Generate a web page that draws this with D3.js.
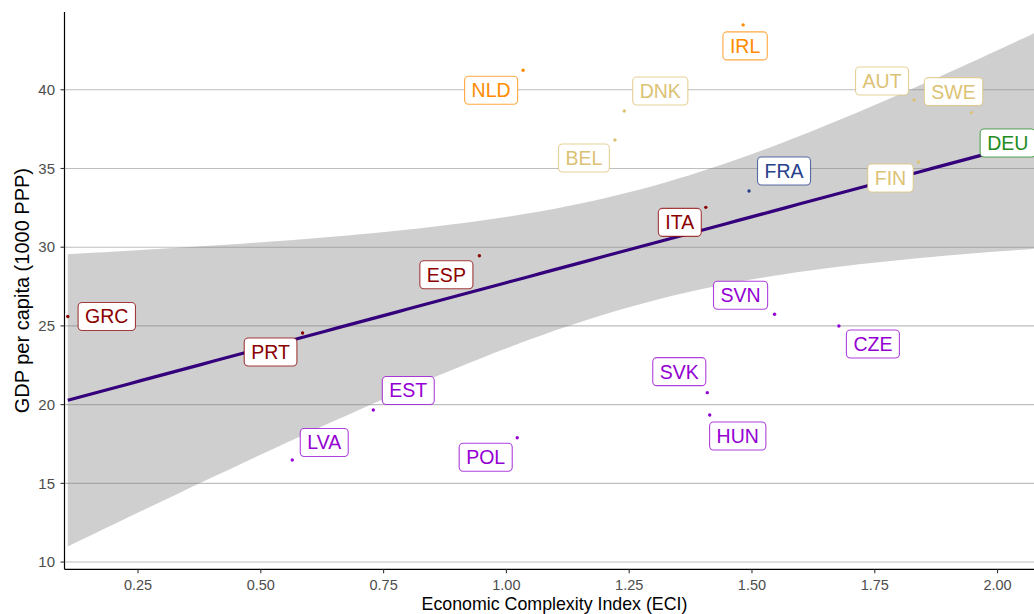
<!DOCTYPE html>
<html>
<head>
<meta charset="utf-8">
<title>GDP per capita vs ECI</title>
<script src="https://d3js.org/d3.v7.min.js"></script>
<style>
  body { margin: 0; background: #fff; }
  text { font-family: "Liberation Sans", Arial, sans-serif; }
</style>
</head>
<body>
<script>
// data
var countries = ["GRC", "PRT", "LVA", "EST", "ESP", "POL", "NLD", "BEL", "DNK", "ITA",
                 "SVK", "HUN", "IRL", "FRA", "SVN", "CZE", "AUT", "FIN", "SWE", "DEU"];
var eci = [0.107, 0.585, 0.564, 0.729, 0.945, 1.022, 1.034, 1.221, 1.240, 1.406,
           1.409, 1.414, 1.482, 1.494, 1.546, 1.677, 1.830, 1.839, 1.947, 2.09];
var gdp = [25.6, 24.55, 16.48, 19.66, 29.46, 17.9, 41.24, 36.81, 38.65, 32.53,
           20.76, 19.34, 44.12, 33.57, 25.74, 24.99, 39.35, 35.41, 38.55, 37.0];
var cluster = ["south", "south", "east", "east", "south", "east", "west", "north", "north", "south",
               "east", "east", "west", "france", "east", "east", "north", "north", "north", "germany"];

var xTicks = [0.25, 0.50, 0.75, 1.00, 1.25, 1.50, 1.75, 2.00];
var yTicks = [10, 15, 20, 25, 30, 35, 40];

// layout: label offsets (px) from each point, as placed by the repel
var labelOffset = {
  GRC: [39, 0], PRT: [-32, 19], LVA: [32, -17.5], EST: [35, -19.5], ESP: [-33, 19],
  POL: [-31.5, 19.5], NLD: [-32, 20], BEL: [-31, 18], DNK: [36, -20], ITA: [-26, 15],
  SVK: [-28, -21], HUN: [28, 21], IRL: [2, 21], FRA: [35, -20], SVN: [-34, -19],
  CZE: [34, 18], AUT: [-32, -19], FIN: [-28, 16], SWE: [-18, -21], DEU: [-34, 6]
};

var colors = {
  south: "#8b0000", east: "#9400d3", west: "#ff8c00",
  north: "#dcc274", france: "#27408b", germany: "#228b22"
};

var W = 1034, H = 614;
var pLeft = 64.5, pRight = 1044.5, pTop = 12, pBottom = 569.3;

var svg = d3.select("body").append("svg").attr("width", W).attr("height", H);

var x = d3.scaleLinear().domain([0.1003, 2.0956]).range([pLeft, pRight]);
var y = d3.scaleLinear().domain([9.54, 44.94]).range([pBottom, pTop]);

// grid lines
svg.append("g").selectAll("line")
  .data(yTicks)
  .enter().append("line")
  .attr("x1", pLeft).attr("x2", pRight)
  .attr("y1", function (d) { return y(d); })
  .attr("y2", function (d) { return y(d); })
  .attr("stroke", "#bebebe")
  .attr("stroke-width", 1.1);

// linear fit with 95% confidence band
var n = eci.length;
var mx = d3.mean(eci), my = d3.mean(gdp);
var sxx = 0, sxy = 0;
for (var i = 0; i < n; i++) {
  sxx += (eci[i] - mx) * (eci[i] - mx);
  sxy += (eci[i] - mx) * (gdp[i] - my);
}
var slope = sxy / sxx;
var icpt = my - slope * mx;
var rss = 0;
for (var i = 0; i < n; i++) {
  var r = gdp[i] - (icpt + slope * eci[i]);
  rss += r * r;
}
var s = Math.sqrt(rss / (n - 2));
var tq = 2.100922; // t(0.975, 18)

var x0 = d3.min(eci), x1 = d3.max(eci);
var fit = d3.range(0, 81).map(function (k) {
  var xv = x0 + (x1 - x0) * k / 80;
  var yv = icpt + slope * xv;
  var se = s * Math.sqrt(1 / n + (xv - mx) * (xv - mx) / sxx);
  return { x: xv, y: yv, lo: yv - tq * se, hi: yv + tq * se };
});

svg.append("path")
  .datum(fit)
  .attr("d", d3.area()
    .x(function (d) { return x(d.x); })
    .y0(function (d) { return y(d.lo); })
    .y1(function (d) { return y(d.hi); }))
  .attr("fill", "#808080")
  .attr("fill-opacity", 0.38);

// points
svg.append("g").selectAll("circle")
  .data(countries)
  .enter().append("circle")
  .attr("cx", function (d, i) { return x(eci[i]); })
  .attr("cy", function (d, i) { return y(gdp[i]); })
  .attr("r", 1.7)
  .attr("fill", function (d, i) { return colors[cluster[i]]; });

svg.append("path")
  .datum(fit)
  .attr("d", d3.line()
    .x(function (d) { return x(d.x); })
    .y(function (d) { return y(d.y); }))
  .attr("fill", "none")
  .attr("stroke", "#34007c")
  .attr("stroke-width", 3.2);

// labels
var lab = svg.append("g").selectAll("g")
  .data(countries)
  .enter().append("g")
  .attr("transform", function (d, i) {
    var o = labelOffset[d];
    return "translate(" + (x(eci[i]) + o[0]) + "," + (y(gdp[i]) + o[1]) + ")";
  });

lab.append("rect");
lab.append("text")
  .text(function (d) { return d; })
  .attr("text-anchor", "middle")
  .attr("y", 6.9)
  .attr("font-size", 19.5)
  .attr("fill", function (d, i) { return colors[cluster[i]]; });

lab.each(function (d, i) {
  var g = d3.select(this);
  var w = g.select("text").node().getComputedTextLength() + 14;
  g.select("rect")
    .attr("x", -w / 2).attr("y", -14)
    .attr("width", w).attr("height", 28)
    .attr("rx", 4).attr("ry", 4)
    .attr("fill", "#fff")
    .attr("stroke", colors[cluster[i]])
    .attr("stroke-opacity", 0.75)
    .attr("stroke-width", 1.1);
});

// axes
svg.append("line")
  .attr("x1", pLeft).attr("x2", pLeft).attr("y1", pTop).attr("y2", pBottom)
  .attr("stroke", "#000").attr("stroke-width", 1.2);
svg.append("line")
  .attr("x1", pLeft).attr("x2", pRight).attr("y1", pBottom).attr("y2", pBottom)
  .attr("stroke", "#000").attr("stroke-width", 1.2);

var yAx = svg.append("g").selectAll("g").data(yTicks).enter().append("g");
yAx.append("line")
  .attr("x1", pLeft - 4).attr("x2", pLeft)
  .attr("y1", function (d) { return y(d); }).attr("y2", function (d) { return y(d); })
  .attr("stroke", "#333").attr("stroke-width", 1.1);
yAx.append("text")
  .attr("x", pLeft - 9.5)
  .attr("y", function (d) { return y(d) + 5.3; })
  .attr("text-anchor", "end")
  .attr("font-size", 15)
  .attr("fill", "#4d4d4d")
  .text(function (d) { return d; });

var xAx = svg.append("g").selectAll("g").data(xTicks).enter().append("g");
xAx.append("line")
  .attr("x1", function (d) { return x(d); }).attr("x2", function (d) { return x(d); })
  .attr("y1", pBottom).attr("y2", pBottom + 4)
  .attr("stroke", "#333").attr("stroke-width", 1.1);
xAx.append("text")
  .attr("x", function (d) { return x(d); })
  .attr("y", 590.3)
  .attr("text-anchor", "middle")
  .attr("font-size", 14.5)
  .attr("fill", "#4d4d4d")
  .text(function (d) { return d3.format(".2f")(d); });

svg.append("text")
  .attr("x", (pLeft + pRight) / 2)
  .attr("y", 610.2)
  .attr("text-anchor", "middle")
  .attr("font-size", 17.8)
  .attr("fill", "#000")
  .text("Economic Complexity Index (ECI)");

svg.append("text")
  .attr("transform", "translate(28.5," + (pTop + pBottom) / 2 + ") rotate(-90)")
  .attr("text-anchor", "middle")
  .attr("font-size", 20)
  .attr("fill", "#000")
  .text("GDP per capita (1000 PPP)");
</script>
</body>
</html>
